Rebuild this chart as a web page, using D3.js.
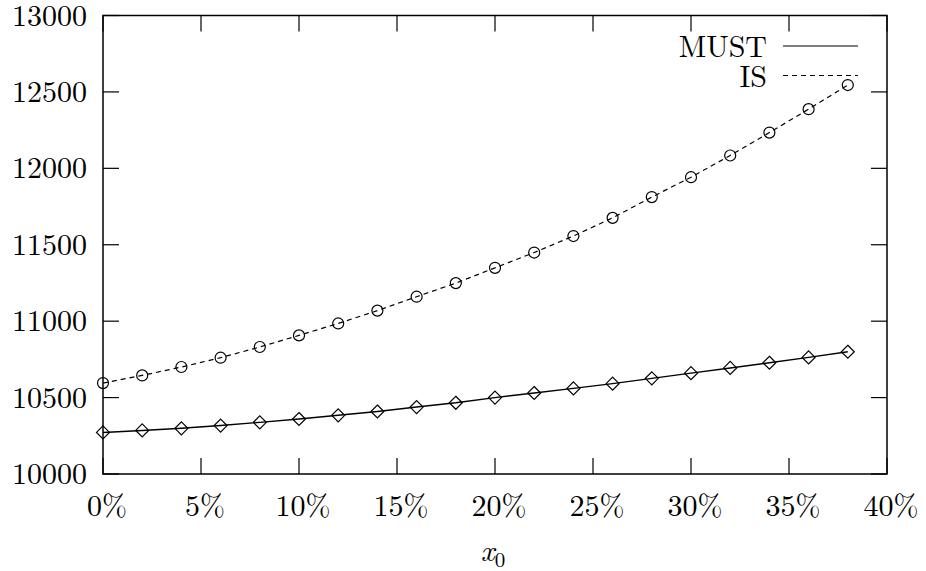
<!DOCTYPE html>
<html lang="en">
<head>
    <meta charset="UTF-8">
    <title>MUST vs IS</title>
    <script src="https://cdnjs.cloudflare.com/ajax/libs/d3/7.8.5/d3.min.js"></script>
    <style>
        body { margin: 0; background: white; }
    </style>
</head>
<body>
    <div id="chart"></div>
    <script>
    // data
    const x0 = [0, 2, 4, 6, 8, 10, 12, 14, 16, 18, 20, 22, 24, 26, 28, 30, 32, 34, 36, 38];
    const must = [10272, 10285, 10299, 10317, 10338, 10360, 10384, 10409, 10438, 10466,
                  10500, 10530, 10560, 10591, 10626, 10660, 10694, 10728, 10763, 10800];
    const is = [10595, 10645, 10700, 10761, 10831, 10907, 10985, 11069, 11160, 11249,
                11349, 11449, 11557, 11676, 11812, 11942, 12084, 12234, 12387, 12545];
    const xTicks = [0, 5, 10, 15, 20, 25, 30, 35, 40];
    const yTicks = [10000, 10500, 11000, 11500, 12000, 12500, 13000];

    const W = 926, H = 571;
    const margin = {top: 15.5, right: 39, bottom: 97, left: 103};
    const width = W - margin.left - margin.right;
    const height = H - margin.top - margin.bottom;
    const serif = "'Latin Modern Roman', 'Liberation Serif', monospace";

    const svg = d3.select("#chart").append("svg")
        .attr("width", W).attr("height", H);
    const g = svg.append("g")
        .attr("transform", `translate(${margin.left},${margin.top})`);

    const x = d3.scaleLinear().domain([0, 40]).range([0, width]);
    const y = d3.scaleLinear().domain([10000, 13000]).range([height, 0]);

    const tickLen = 16;
    const fontSize = 30;

    // inward ticks on all four sides
    g.selectAll(".xt-b").data(xTicks).join("line")
        .attr("x1", d => x(d)).attr("x2", d => x(d))
        .attr("y1", height).attr("y2", height - tickLen)
        .attr("stroke", "black").attr("stroke-width", 1.2);
    g.selectAll(".xt-t").data(xTicks).join("line")
        .attr("x1", d => x(d)).attr("x2", d => x(d))
        .attr("y1", 0).attr("y2", tickLen)
        .attr("stroke", "black").attr("stroke-width", 1.2);
    g.selectAll(".yt-l").data(yTicks).join("line")
        .attr("x1", 0).attr("x2", tickLen)
        .attr("y1", d => y(d)).attr("y2", d => y(d))
        .attr("stroke", "black").attr("stroke-width", 1.2);
    g.selectAll(".yt-r").data(yTicks).join("line")
        .attr("x1", width).attr("x2", width - tickLen)
        .attr("y1", d => y(d)).attr("y2", d => y(d))
        .attr("stroke", "black").attr("stroke-width", 1.2);

    // border
    g.append("rect")
        .attr("width", width).attr("height", height)
        .attr("fill", "none").attr("stroke", "black").attr("stroke-width", 1.5);

    // tick labels
    g.selectAll(".xl").data(xTicks).join("text")
        .attr("x", d => x(d) + 4).attr("y", height + 42)
        .attr("text-anchor", "middle")
        .style("font-family", serif)
        .style("font-size", fontSize + "px")
        .text(d => d + "%");
    g.selectAll(".yl").data(yTicks).join("text")
        .attr("x", -16).attr("y", d => y(d) + 10)
        .attr("text-anchor", "end")
        .style("font-family", serif)
        .style("font-size", fontSize + "px")
        .text(d => d);

    // x axis title
    const xt = g.append("text")
        .attr("x", width / 2 - 2).attr("y", height + 87)
        .attr("text-anchor", "middle")
        .style("font-family", serif)
        .style("font-size", fontSize + "px");
    xt.append("tspan").style("font-style", "italic").text("x");
    xt.append("tspan").attr("dy", 6).style("font-size", "21px").text("0");

    const line = d3.line().x(d => x(d[0])).y(d => y(d[1]));
    const mustPts = x0.map((v, i) => [v, must[i]]);
    const isPts = x0.map((v, i) => [v, is[i]]);

    g.append("path").datum(mustPts)
        .attr("d", line).attr("fill", "none")
        .attr("stroke", "black").attr("stroke-width", 1.4);
    g.append("path").datum(isPts)
        .attr("d", line).attr("fill", "none")
        .attr("stroke", "black").attr("stroke-width", 1.2)
        .attr("stroke-dasharray", "5,4");

    // markers
    const dm = 6.5;
    g.selectAll(".dia").data(mustPts).join("path")
        .attr("d", d => `M${x(d[0])},${y(d[1]) - dm}L${x(d[0]) + dm},${y(d[1])}L${x(d[0])},${y(d[1]) + dm}L${x(d[0]) - dm},${y(d[1])}Z`)
        .attr("fill", "none").attr("stroke", "black").attr("stroke-width", 1.2);
    g.selectAll(".circ").data(isPts).join("circle")
        .attr("cx", d => x(d[0])).attr("cy", d => y(d[1])).attr("r", 5.5)
        .attr("fill", "none").attr("stroke", "black").attr("stroke-width", 1.2);

    // legend
    const legend = [
        {name: "MUST", dash: null, yPos: 46},
        {name: "IS", dash: "5,4", yPos: 75.5}
    ];
    const lg = svg.append("g");
    lg.selectAll("line").data(legend).join("line")
        .attr("x1", 783).attr("x2", 858)
        .attr("y1", d => d.yPos).attr("y2", d => d.yPos)
        .attr("stroke", "black").attr("stroke-width", 1.2)
        .attr("stroke-dasharray", d => d.dash);
    lg.selectAll("text").data(legend).join("text")
        .attr("x", 767).attr("y", d => d.yPos + 11)
        .attr("text-anchor", "end")
        .style("font-family", serif)
        .style("font-size", fontSize + "px")
        .text(d => d.name);
    </script>
</body>
</html>
